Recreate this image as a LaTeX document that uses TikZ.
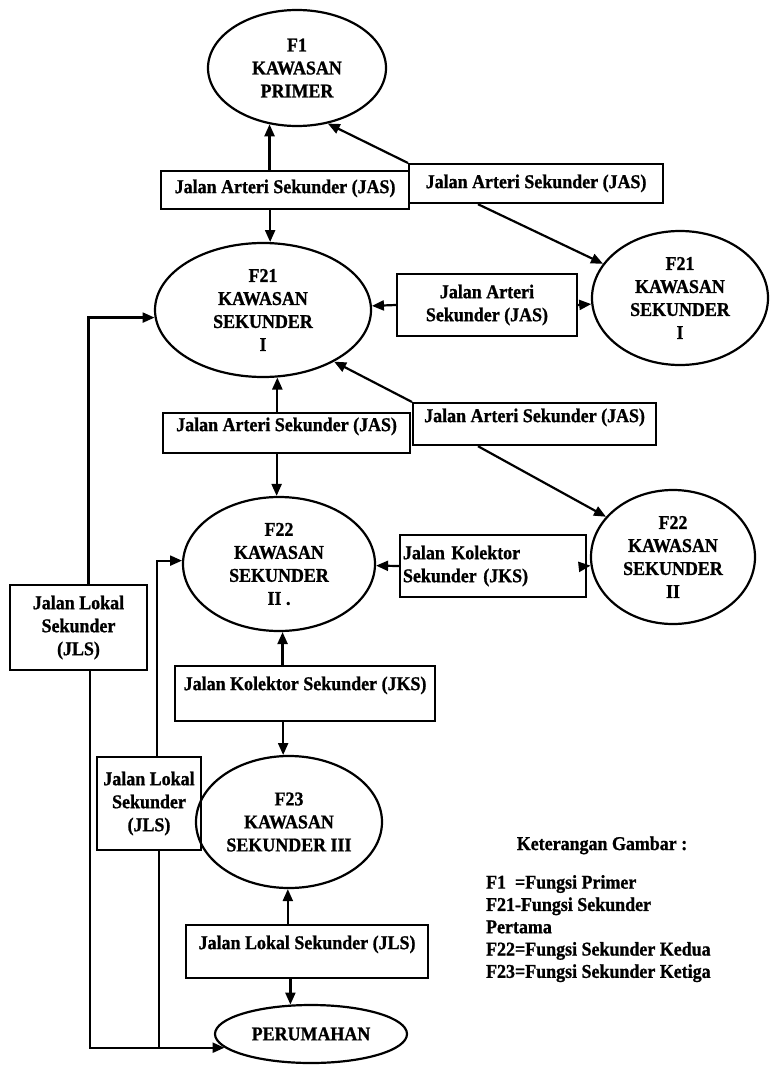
\documentclass[tikz,border=0pt]{standalone}
\usepackage{fontspec}
\setmainfont[FakeStretch=0.92,BoldFeatures={FakeBold=1}]{Liberation Serif}
\usetikzlibrary{shapes.geometric,arrows.meta,calc}

\begin{document}
\begin{tikzpicture}[x=1pt,y=-1pt,
  every node/.style={font=\fontsize{19.5}{23}\selectfont\bfseries},
  line width=2.2pt,
  oval/.style={draw, ellipse, inner sep=0pt, align=center, line width=2.2pt},
  tbox/.style={draw, rectangle, inner sep=0pt, line width=2.2pt},
  arr/.style={-{Triangle[length=12pt,width=10pt]}},
]
% canvas
\fill[white] (0,0) rectangle (770,1068);
\useasboundingbox (0,0) rectangle (770,1068);

% areas
\node[oval, minimum width=178pt, minimum height=116pt] (f1)   at (297,68)  {F1\\KAWASAN\\PRIMER};
\node[oval, minimum width=216pt, minimum height=134pt] (f21a) at (263,310) {F21\\KAWASAN\\SEKUNDER\\I};
\node[oval, minimum width=176pt, minimum height=134pt] (f21b) at (680,298) {F21\\KAWASAN\\SEKUNDER\\I};
\node[oval, minimum width=192pt, minimum height=134pt] (f22a) at (279,564) {F22\\KAWASAN\\SEKUNDER\\II .};
\node[oval, minimum width=164pt, minimum height=134pt] (f22b) at (673,557) {F22\\KAWASAN\\SEKUNDER\\II};
\node[oval, minimum width=186pt, minimum height=132pt] (f23)  at (289,822) {F23\\KAWASAN\\SEKUNDER III};
\node[oval, minimum width=192pt, minimum height=58pt]  (per)  at (311,1034) {PERUMAHAN};

% road classes
\node[tbox, anchor=north west, minimum width=248pt, text height=22pt, text depth=16pt] (b1) at (160,170) {Jalan Arteri Sekunder (JAS)};
\node[tbox, anchor=north west, minimum width=254pt, text height=24pt, text depth=15pt] (b2) at (408,163) {Jalan Arteri Sekunder (JAS)};
\node[tbox, align=center, minimum width=180pt, minimum height=62pt] (m1) at (487,305) {Jalan Arteri\\Sekunder (JAS)};
\node[tbox, anchor=north west, minimum width=247pt, text height=18pt, text depth=22pt] (b3) at (162,412) {Jalan Arteri Sekunder (JAS)};
\node[tbox, anchor=north west, minimum width=243pt, text height=19pt, text depth=23pt] (b4) at (412,402) {Jalan Arteri Sekunder (JAS)};
\node[tbox, align=left, text width=180pt, inner xsep=3pt, minimum height=62pt] (k1) at (493,566) {Jalan Kolektor\\Sekunder (JKS)};
\node[tbox, anchor=north west, minimum width=260pt, text height=24pt, text depth=31pt] (k2) at (174,665) {Jalan Kolektor Sekunder (JKS)};
\node[tbox, anchor=north west, minimum width=242pt, text height=24pt, text depth=29pt] (l3) at (185,924) {Jalan Lokal Sekunder (JLS)};
\node[tbox, align=center, minimum width=137pt, minimum height=85pt] (l1) at (78.5,627.5) {Jalan Lokal\\Sekunder\\(JLS)};
\node[tbox, align=center, minimum width=104pt, minimum height=93pt] (l2) at (149,803.5) {Jalan Lokal\\Sekunder\\(JLS)};

% legend
\node[anchor=base] (legt) at (602,850) {Keterangan Gambar :};
\node[anchor=north west, align=left, inner sep=0pt, font=\fontsize{19.5}{22.3}\selectfont\bfseries] (leg) at (485,874)
  {F1\ \ =Fungsi Primer\\F21-Fungsi Sekunder\\Pertama\\F22=Fungsi Sekunder Kedua\\F23=Fungsi Sekunder Ketiga};

% connectors
\draw[arr] (f1.244 |- b1.north) -- (f1.244);
\draw[arr] (b2.north west) -- (f1.299);
\draw[arr] (f21a.84 |- b1.south) -- (f21a.84);
\draw[arr] ($(b2.south west)+(70,0)$) -- (f21b.156);
\draw[arr] (m1.west) -- (f21a);
\draw[arr] (m1.east) -- (f21b);
\draw[arr] (f21a.282 |- b3.north) -- (f21a.282);
\draw[arr] (b4.north west) -- (f21a.324);
\draw[arr] (f22a.92 |- b3.south) -- (f22a.92);
\draw[arr] ($(b4.south west)+(66,0)$) -- (f22b.149);
\draw[arr] (k1.west) -- (f22a);
\draw[arr] (k1.east) -- (f22b);
\draw[arr] (f22a.273 |- k2.north) -- (f22a.273);
\draw[arr] (f23.95 |- k2.south) -- (f23.95);
\draw[arr] (f23.269 |- l3.north) -- (f23.269);
\draw[arr] (per.125 |- l3.south) -- (per.125);

% local roads on the left
\draw[arr] ($(l1.north)+(10,0)$) |- (f21a.184);
\draw[arr] ($(l1.south)+(11.5,0)$) |- (per.189.5);
\draw[arr] ($(l2.north)+(8,0)$) |- (f22a.178);
\coordinate (l2s) at ($(l2.south)+(10,0)$);
\draw (l2s) -- (l2s |- per.189.5);
\end{tikzpicture}
\end{document}
